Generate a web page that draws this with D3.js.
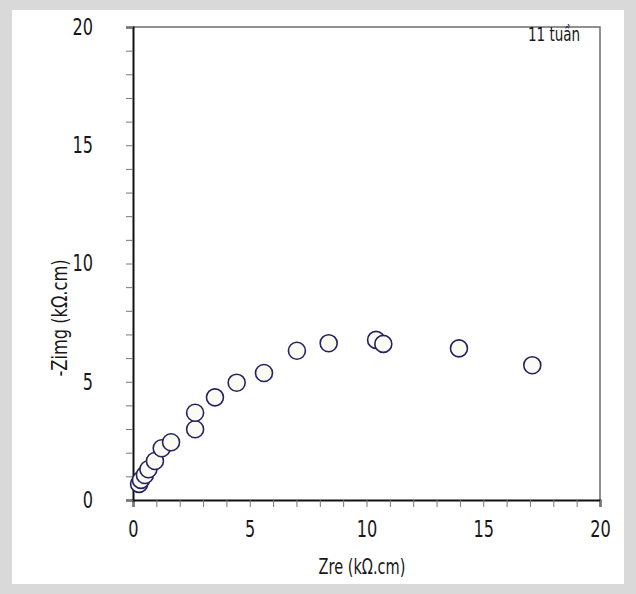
<!DOCTYPE html>
<html>
<head>
<meta charset="utf-8">
<script src="https://cdn.jsdelivr.net/npm/d3@7"></script>
<style>
  html, body { margin: 0; padding: 0; background: #d9d9d9; }
  #chart { position: absolute; left: 12px; top: 10px; width: 612px; height: 574px; background: #fff; }
  text { font-family: "DejaVu Sans Condensed", "DejaVu Sans", sans-serif; font-stretch: condensed; fill: #1a1718; }
</style>
</head>
<body>
<div id="chart"></div>
<script>

// Zre (kOhm.cm)
var zre = [0.26, 0.34, 0.51, 0.66, 0.94, 1.23, 1.63, 2.66, 2.66, 3.51, 4.44, 5.61, 7.02, 8.38, 10.41, 10.72, 13.96, 17.10];
// -Zimg (kOhm.cm)
var zimg = [0.68, 0.85, 1.06, 1.30, 1.65, 2.19, 2.44, 2.99, 3.69, 4.34, 4.96, 5.37, 6.31, 6.63, 6.77, 6.60, 6.41, 5.70];

var xTicks = d3.range(0, 21, 1);
var yTicks = d3.range(0, 21, 1);
var majorTicks = [0, 5, 10, 15, 20];

var seriesLabel = "11 tuần";
var xTitle = "Zre (kΩ.cm)";
var yTitle = "-Zimg (kΩ.cm)";

var W = 636, H = 594;
var plot = { left: 133, top: 27, right: 600, bottom: 500 };

var svg = d3.select("body").append("svg")
    .attr("width", W)
    .attr("height", H)
    .style("position", "absolute")
    .style("left", 0)
    .style("top", 0);

var x = d3.scaleLinear().domain([0, 20]).range([plot.left, plot.right]);
var y = d3.scaleLinear().domain([0, 20]).range([plot.bottom, plot.top]);

var fmt = function(d) { return majorTicks.indexOf(d) >= 0 ? d : ""; };

// squeeze text horizontally (reference font is a condensed one)
function squeeze(sel, k) {
  sel.each(function() {
    var len = this.getComputedTextLength();
    if (len > 0) {
      d3.select(this).attr("textLength", len * k).attr("lengthAdjust", "spacingAndGlyphs");
    }
  });
}

// frame top / right
svg.append("path")
    .attr("d", "M" + plot.left + "," + plot.top + "H" + plot.right + "V" + plot.bottom)
    .attr("fill", "none")
    .attr("stroke", "#6d6d6d")
    .attr("stroke-width", 1.5);

// x axis
var gx = svg.append("g")
    .attr("transform", "translate(0," + plot.bottom + ")")
    .call(d3.axisBottom(x).tickValues(xTicks).tickFormat(fmt).tickSize(7).tickPadding(14));
gx.select(".domain").attr("stroke", "#111").attr("stroke-width", 2);
gx.selectAll(".tick line").attr("stroke", "#777").attr("stroke-width", 1);
gx.selectAll(".tick text")
    .style("font-size", "23px")
    .attr("fill", "#1a1718")
    .call(squeeze, 0.78);

// y axis
var gy = svg.append("g")
    .attr("transform", "translate(" + plot.left + ",0)")
    .call(d3.axisLeft(y).tickValues(yTicks).tickFormat(fmt).tickSize(7).tickPadding(33));
gy.select(".domain").attr("stroke", "#111").attr("stroke-width", 2);
gy.selectAll(".tick line").attr("stroke", "#777").attr("stroke-width", 1);
gy.selectAll(".tick text")
    .style("font-size", "23px")
    .attr("fill", "#1a1718")
    .call(squeeze, 0.78);

// titles
svg.append("text")
    .attr("x", 362)
    .attr("y", 574)
    .attr("text-anchor", "middle")
    .style("font-size", "21px")
    .text(xTitle)
    .call(squeeze, 0.77);

svg.append("text")
    .attr("transform", "translate(67,318) rotate(-90)")
    .attr("text-anchor", "middle")
    .style("font-size", "21px")
    .text(yTitle)
    .call(squeeze, 0.86);

svg.append("text")
    .attr("x", 528)
    .attr("y", 41)
    .style("font-size", "20px")
    .text(seriesLabel)
    .call(squeeze, 0.75);

// points
var pts = zre.map(function(d, i) { return { zre: d, zimg: zimg[i] }; });

svg.append("g").selectAll("circle")
    .data(pts)
    .enter().append("circle")
    .attr("cx", function(d) { return x(d.zre); })
    .attr("cy", function(d) { return y(d.zimg); })
    .attr("r", 8.5)
    .attr("fill", "#fbfbf3")
    .attr("stroke", "#25235f")
    .attr("stroke-width", 1.6);

</script>
</body>
</html>
